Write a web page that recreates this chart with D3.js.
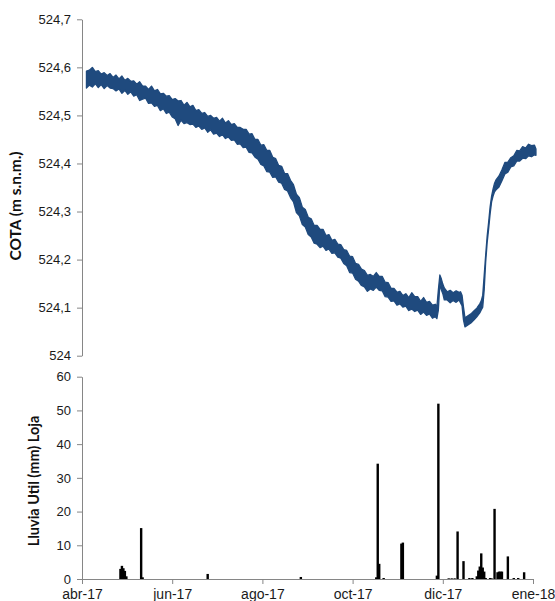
<!DOCTYPE html>
<html>
<head>
<meta charset="utf-8">
<script src="https://cdn.jsdelivr.net/npm/d3@7"></script>
<style>
  body { margin: 0; background: #fff; }
  svg { display: block; font-family: Lato, "Noto Sans", sans-serif; }
  .axis path, .axis line { stroke: #868686; }
  .axis text { fill: #1a1a1a; }
</style>
</head>
<body>
<script>
// Cota del embalse (envolvente max/min)
const cotaFecha = [
  "2017-04-04","2017-04-06","2017-04-08","2017-04-10","2017-04-12","2017-04-14","2017-04-16","2017-04-18","2017-04-20","2017-04-22",
  "2017-04-24","2017-04-26","2017-04-28","2017-04-30","2017-05-02","2017-05-04","2017-05-06","2017-05-08","2017-05-10","2017-05-12",
  "2017-05-14","2017-05-16","2017-05-18","2017-05-20","2017-05-22","2017-05-24","2017-05-26","2017-05-28","2017-05-30","2017-06-01",
  "2017-06-03","2017-06-05","2017-06-07","2017-06-09","2017-06-11","2017-06-13","2017-06-15","2017-06-17","2017-06-19","2017-06-21",
  "2017-06-23","2017-06-25","2017-06-27","2017-06-29","2017-07-01","2017-07-03","2017-07-05","2017-07-07","2017-07-09","2017-07-11",
  "2017-07-13","2017-07-15","2017-07-17","2017-07-19","2017-07-21","2017-07-23","2017-07-25","2017-07-27","2017-07-29","2017-07-31",
  "2017-08-02","2017-08-04","2017-08-06","2017-08-08","2017-08-10","2017-08-12","2017-08-14","2017-08-16","2017-08-18","2017-08-20",
  "2017-08-22","2017-08-24","2017-08-26","2017-08-28","2017-08-30","2017-09-01","2017-09-03","2017-09-05","2017-09-07","2017-09-09",
  "2017-09-11","2017-09-13","2017-09-15","2017-09-17","2017-09-19","2017-09-21","2017-09-23","2017-09-25","2017-09-27","2017-09-29",
  "2017-10-01","2017-10-03","2017-10-05","2017-10-07","2017-10-09","2017-10-11","2017-10-13","2017-10-15","2017-10-17","2017-10-19",
  "2017-10-21","2017-10-23","2017-10-25","2017-10-27","2017-10-29","2017-10-31","2017-11-02","2017-11-04","2017-11-06","2017-11-08",
  "2017-11-10","2017-11-12","2017-11-14","2017-11-16","2017-11-18","2017-11-20","2017-11-22","2017-11-24","2017-11-26","2017-11-27",
  "2017-11-28","2017-11-29","2017-11-30","2017-12-01","2017-12-02","2017-12-04","2017-12-06","2017-12-08","2017-12-10","2017-12-12",
  "2017-12-13","2017-12-14","2017-12-15","2017-12-16","2017-12-18","2017-12-20","2017-12-22","2017-12-24","2017-12-26","2017-12-27",
  "2017-12-28","2017-12-29","2017-12-30","2017-12-31","2018-01-01","2018-01-02","2018-01-03","2018-01-04","2018-01-05","2018-01-06",
  "2018-01-08","2018-01-10","2018-01-12","2018-01-14","2018-01-16","2018-01-18","2018-01-20","2018-01-22","2018-01-24","2018-01-26",
  "2018-01-28","2018-01-30","2018-02-01","2018-02-02"
];
const cotaMax = [
  524.592,524.594,524.600,524.591,524.593,524.586,524.589,524.583,524.587,524.579,
  524.584,524.576,524.582,524.573,524.577,524.571,524.572,524.565,524.570,524.561,
  524.561,524.554,524.561,524.551,524.554,524.545,524.546,524.540,524.541,524.533,
  524.535,524.530,524.531,524.521,524.527,524.518,524.521,524.510,524.512,524.504,
  524.506,524.498,524.500,524.494,524.496,524.488,524.494,524.484,524.489,524.481,
  524.483,524.475,524.475,524.471,524.471,524.461,524.462,524.450,524.450,524.438,
  524.439,524.427,524.427,524.413,524.410,524.396,524.394,524.379,524.379,524.365,
  524.356,524.336,524.329,524.309,524.304,524.288,524.285,524.271,524.271,524.263,
  524.263,524.250,524.252,524.240,524.242,524.232,524.231,524.221,524.219,524.207,
  524.206,524.192,524.190,524.180,524.177,524.167,524.169,524.165,524.173,524.165,
  524.165,524.153,524.152,524.140,524.140,524.132,524.134,524.125,524.129,524.121,
  524.131,524.123,524.123,524.113,524.121,524.111,524.113,524.105,524.107,524.102,
  524.137,524.168,524.160,524.149,524.141,524.133,524.136,524.131,524.135,524.132,
  524.133,524.126,524.101,524.079,524.083,524.087,524.093,524.099,524.108,524.114,
  524.126,524.168,524.210,524.249,524.278,524.310,524.332,524.347,524.359,524.366,
  524.374,524.387,524.402,524.403,524.412,524.416,524.427,524.426,524.435,524.432,
  524.440,524.437,524.438,524.430
];
const cotaMin = [
  524.557,524.563,524.559,524.566,524.558,524.564,524.556,524.562,524.557,524.556,
  524.551,524.555,524.546,524.552,524.544,524.549,524.540,524.543,524.531,524.534,
  524.536,524.525,524.526,524.519,524.521,524.510,524.514,524.504,524.507,524.497,
  524.493,524.479,524.490,524.483,524.485,524.481,524.482,524.475,524.478,524.471,
  524.474,524.465,524.470,524.461,524.463,524.456,524.460,524.452,524.455,524.448,
  524.449,524.440,524.441,524.433,524.434,524.423,524.422,524.413,524.409,524.398,
  524.395,524.383,524.382,524.371,524.372,524.361,524.359,524.346,524.343,524.329,
  524.320,524.298,524.291,524.273,524.268,524.252,524.247,524.234,524.232,524.225,
  524.228,524.219,524.222,524.213,524.214,524.205,524.203,524.192,524.187,524.173,
  524.172,524.159,524.155,524.146,524.143,524.134,524.139,524.136,524.143,524.136,
  524.135,524.123,524.122,524.113,524.114,524.105,524.108,524.101,524.103,524.094,
  524.097,524.092,524.095,524.086,524.091,524.084,524.087,524.078,524.081,524.077,
  524.095,524.149,524.137,524.129,524.116,524.116,524.110,524.115,524.111,524.116,
  524.110,524.104,524.074,524.060,524.064,524.068,524.074,524.081,524.089,524.095,
  524.101,524.137,524.195,524.235,524.264,524.295,524.320,524.332,524.341,524.345,
  524.351,524.364,524.378,524.382,524.393,524.395,524.405,524.405,524.411,524.410,
  524.416,524.414,524.418,524.417
];

// Lluvia diaria en Loja (mm)
const lluviaFecha = [
  "2017-04-27","2017-04-28","2017-04-29","2017-04-30","2017-05-01","2017-05-11","2017-05-12","2017-06-25","2017-08-27",
  "2017-10-17","2017-10-18","2017-10-19","2017-10-22","2017-11-03","2017-11-04","2017-11-27","2017-11-28",
  "2017-12-05","2017-12-07","2017-12-09","2017-12-11","2017-12-15","2017-12-19","2017-12-21",
  "2017-12-24","2017-12-25","2017-12-26","2017-12-27","2017-12-28","2017-12-29","2017-12-30",
  "2018-01-02","2018-01-03","2018-01-05","2018-01-07","2018-01-08","2018-01-09","2018-01-10",
  "2018-01-14","2018-01-18","2018-01-21","2018-01-25"
];
const lluviaMm = [
  3.0, 3.9, 3.2, 2.4, 0.8, 15.1, 0.5, 1.5, 0.6,
  0.5, 34.2, 4.5, 0.3, 10.5, 10.8, 1.0, 52.0,
  0.2, 0.2, 0.2, 14.1, 5.3, 0.3, 0.3,
  0.8, 2.5, 3.7, 7.6, 3.4, 2.2, 0.3,
  0.3, 0.2, 20.8, 2.0, 2.2, 2.2, 2.2,
  6.7, 0.3, 0.3, 2.0
];

const tickFechas = ["2017-04-01", "2017-06-01", "2017-08-01", "2017-10-01", "2017-12-01", "2018-01-31"];
const tickEtiquetas = ["abr-17", "jun-17", "ago-17", "oct-17", "dic-17", "ene-18"];
const cotaTicks = [524, 524.1, 524.2, 524.3, 524.4, 524.5, 524.6, 524.7];
const lluviaTicks = [0, 10, 20, 30, 40, 50, 60];

const w = 555;
const h = 601;
const left = 82;
const right = 533;

const parse = d3.timeParse("%Y-%m-%d");
const fmt = d3.format(",.1f");
const coma = (v) => (v === 524 ? "524" : fmt(v).replace(".", ","));

const svg = d3.select("body").append("svg").attr("width", w).attr("height", h);

const xScale = d3
  .scaleTime()
  .domain([parse("2017-04-01"), parse("2018-01-31")])
  .range([left, right]);

// ---- panel superior: cota ----
const yCota = d3.scaleLinear().domain([524, 524.7]).range([355.7, 19.3]);

const cota = cotaFecha.map((f, i) => ({ fecha: parse(f), hi: cotaMax[i], lo: cotaMin[i] }));

svg
  .append("g")
  .attr("class", "axis")
  .attr("transform", "translate(" + left + ",0)")
  .call(d3.axisLeft(yCota).tickValues(cotaTicks).tickFormat(coma).tickSize(5).tickSizeOuter(0).tickPadding(6))
  .call((g) => g.selectAll("text").style("font-size", "13px"));

const area = d3
  .area()
  .x((d) => xScale(d.fecha))
  .y0((d) => yCota(d.lo))
  .y1((d) => yCota(d.hi));

svg
  .append("path")
  .datum(cota)
  .attr("d", area)
  .attr("fill", "#1f4a7e")
  .attr("stroke", "#1f4a7e")
  .attr("stroke-width", 1.3)
  .attr("stroke-linejoin", "round");

svg
  .append("text")
  .attr("transform", "translate(21,206) rotate(-90)")
  .attr("text-anchor", "middle")
  .style("font-weight", "bold")
  .style("font-size", "15.5px")
  .attr("fill", "#111")
  .text("COTA (m s.n.m.)");

// ---- panel inferior: lluvia ----
const yLluvia = d3.scaleLinear().domain([0, 60]).range([579, 376.7]);

svg
  .append("g")
  .attr("class", "axis")
  .attr("transform", "translate(" + left + ",0)")
  .call(d3.axisLeft(yLluvia).tickValues(lluviaTicks).tickSize(5).tickSizeOuter(0).tickPadding(6))
  .call((g) => g.selectAll("text").style("font-size", "13px"));

const xAxis = d3
  .axisBottom(xScale)
  .tickValues(tickFechas.map(parse))
  .tickFormat((d, i) => tickEtiquetas[i])
  .tickSize(5)
  .tickSizeOuter(0);

svg
  .append("g")
  .attr("class", "axis")
  .attr("transform", "translate(0,579)")
  .call(xAxis)
  .call((g) => g.selectAll("text").attr("y", 19.5).attr("dy", null).style("font-size", "14px"));

const barW = 2.4;
svg
  .selectAll("rect.lluvia")
  .data(lluviaFecha)
  .enter()
  .append("rect")
  .attr("class", "lluvia")
  .attr("x", (d) => xScale(parse(d)) - barW / 2)
  .attr("y", (d, i) => yLluvia(lluviaMm[i]))
  .attr("width", barW)
  .attr("height", (d, i) => yLluvia(0) - yLluvia(lluviaMm[i]))
  .attr("fill", "#000");

svg
  .append("text")
  .attr("transform", "translate(39,481) rotate(-90)")
  .attr("text-anchor", "middle")
  .style("font-weight", "bold")
  .style("font-size", "14.5px")
  .attr("fill", "#111")
  .text("Lluvia Util (mm) Loja");
</script>
</body>
</html>
